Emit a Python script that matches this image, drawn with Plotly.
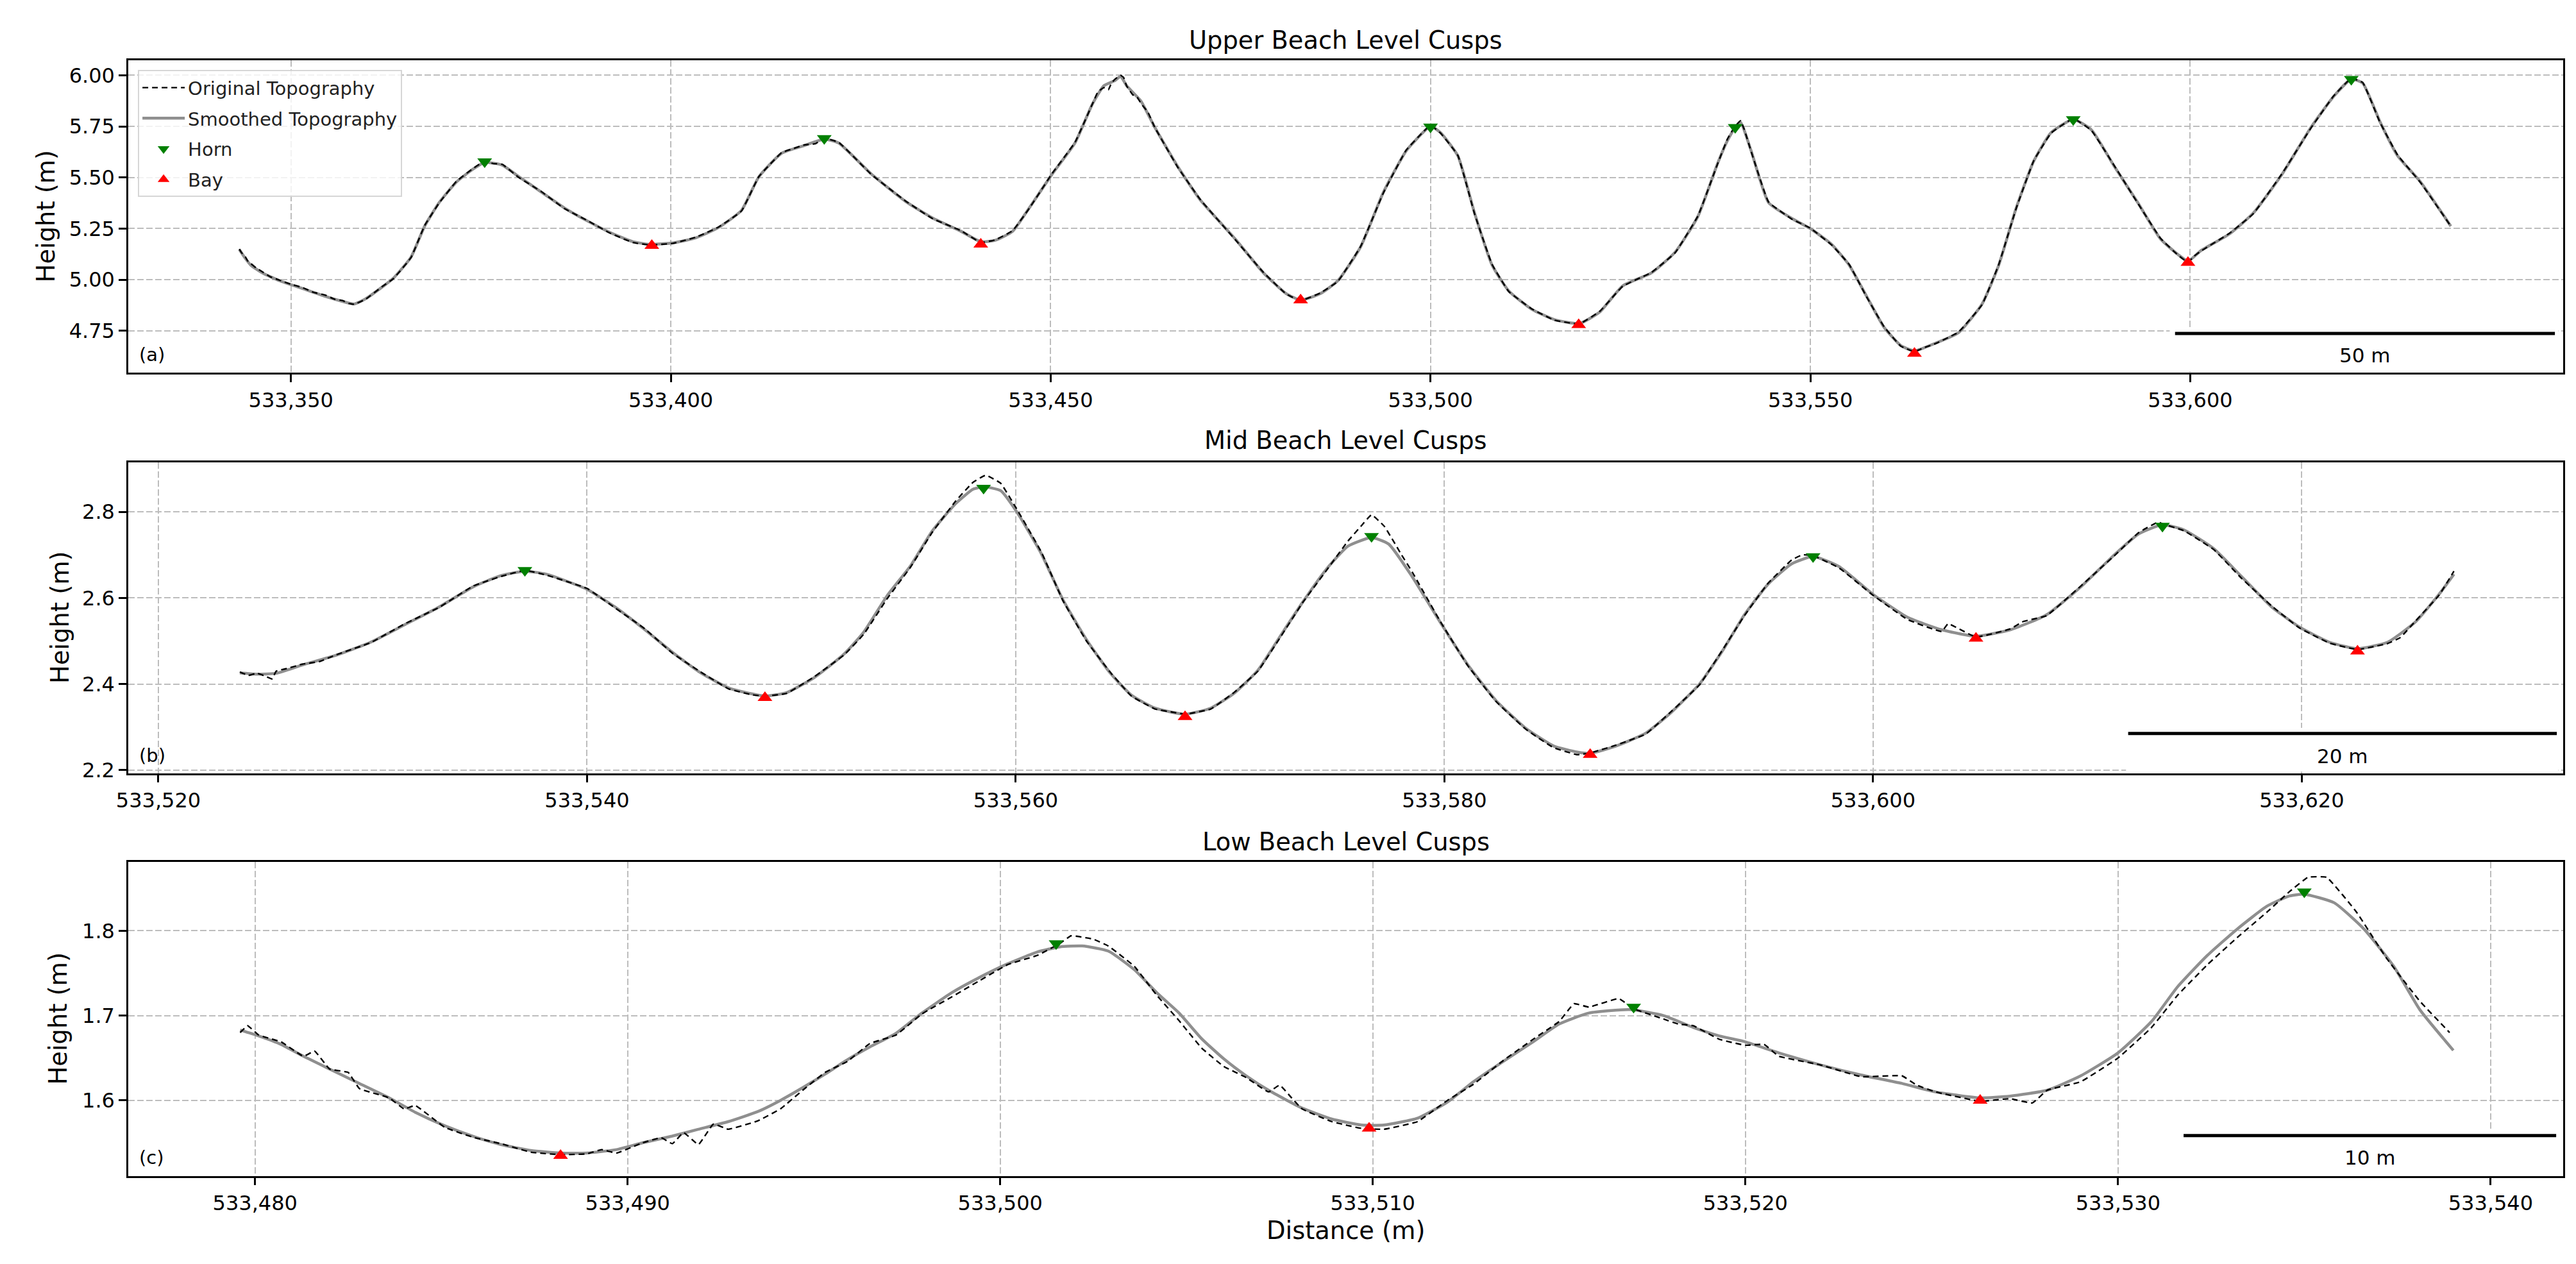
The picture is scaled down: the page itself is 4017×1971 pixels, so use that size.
import plotly.graph_objects as go

FONT = "DejaVu Sans"

# ---------------- data ----------------
SMOOTH_A = [(533343.2, 5.148), (533344.0, 5.104), (533344.7, 5.072), (533346.2, 5.034), (533348.5, 4.995),
            (533351.5, 4.957), (533354.5, 4.919), (533356.8, 4.894), (533358.3, 4.881), (533359.8, 4.906),
            (533362.0, 4.964), (533363.5, 5.008), (533365.8, 5.110), (533367.6, 5.262), (533369.5, 5.377),
            (533371.8, 5.479), (533374.0, 5.542), (533375.5, 5.574), (533377.8, 5.561), (533380.0, 5.504),
            (533383.0, 5.428), (533386.0, 5.351), (533389.0, 5.288), (533392.0, 5.231), (533395.0, 5.186),
            (533397.3, 5.173), (533400.3, 5.180), (533403.3, 5.205), (533406.3, 5.256), (533409.3, 5.339),
            (533411.6, 5.504), (533414.6, 5.619), (533417.6, 5.657), (533420.2, 5.688), (533422.1, 5.669),
            (533426.4, 5.517), (533430.9, 5.383), (533434.5, 5.301), (533438.2, 5.237), (533440.8, 5.186),
            (533442.7, 5.193), (533445.0, 5.237), (533447.2, 5.352), (533450.2, 5.517), (533453.2, 5.669),
            (533455.5, 5.860), (533457.0, 5.949), (533458.5, 5.975), (533459.2, 5.995), (533460.0, 5.949),
            (533461.9, 5.873), (533463.7, 5.746), (533466.7, 5.555), (533469.7, 5.390), (533474.3, 5.199),
            (533478.0, 5.034), (533481.0, 4.932), (533482.9, 4.900), (533485.5, 4.932), (533487.8, 4.995),
            (533490.8, 5.161), (533493.8, 5.428), (533496.8, 5.631), (533499.0, 5.720), (533500.0, 5.752),
            (533501.3, 5.720), (533503.6, 5.606), (533505.8, 5.326), (533508.1, 5.072), (533510.3, 4.945),
            (533513.3, 4.856), (533516.3, 4.805), (533519.6, 4.786), (533522.3, 4.843), (533525.3, 4.970),
            (533529.1, 5.034), (533532.2, 5.135), (533535.2, 5.310), (533537.8, 5.570), (533539.1, 5.682),
            (533540.1, 5.746), (533540.8, 5.770), (533542.2, 5.631), (533544.5, 5.377), (533547.5, 5.301),
            (533550.0, 5.250), (533552.8, 5.173), (533555.1, 5.072), (533557.4, 4.919), (533559.7, 4.767),
            (533561.9, 4.678), (533563.7, 4.652), (533566.5, 4.690), (533569.5, 4.741), (533572.6, 4.881),
            (533574.8, 5.072), (533577.1, 5.352), (533579.4, 5.580), (533581.7, 5.720), (533584.6, 5.784),
            (533587.0, 5.733), (533590.0, 5.555), (533593.1, 5.377), (533596.1, 5.199), (533598.4, 5.123),
            (533599.7, 5.091), (533601.4, 5.142), (533605.2, 5.225), (533608.3, 5.326), (533612.1, 5.517),
            (533615.9, 5.746), (533618.9, 5.898), (533621.2, 5.981), (533622.7, 5.962), (533625.0, 5.771),
            (533627.3, 5.606), (533630.3, 5.479), (533634.3, 5.262)]

ORIG_A = [(533343.2, 5.150), (533343.5, 5.132), (533344.0, 5.112), (533344.3, 5.092), (533344.7, 5.080),
          (533345.4, 5.058), (533346.2, 5.040), (533347.3, 5.014), (533348.5, 4.998), (533350.0, 4.978),
          (533351.5, 4.962), (533353.0, 4.938), (533354.5, 4.925), (533355.7, 4.905), (533356.8, 4.898),
          (533357.6, 4.884), (533358.3, 4.880), (533359.8, 4.904), (533362.0, 4.966), (533363.5, 5.006),
          (533365.8, 5.108), (533367.6, 5.265), (533369.5, 5.375), (533371.8, 5.482), (533374.0, 5.545),
          (533375.5, 5.580), (533376.6, 5.568), (533377.8, 5.565), (533380.0, 5.500), (533383.0, 5.430),
          (533386.0, 5.348), (533389.0, 5.290), (533392.0, 5.228), (533395.0, 5.182), (533397.3, 5.170),
          (533400.3, 5.178), (533403.3, 5.208), (533406.3, 5.258), (533409.3, 5.336), (533411.6, 5.505),
          (533414.6, 5.622), (533416.0, 5.640), (533417.6, 5.660), (533419.0, 5.665), (533420.2, 5.692),
          (533422.1, 5.672), (533426.4, 5.515), (533430.9, 5.385), (533434.5, 5.298), (533438.2, 5.240),
          (533440.8, 5.182), (533442.7, 5.195), (533445.0, 5.240), (533447.2, 5.350), (533450.2, 5.520),
          (533453.2, 5.672), (533455.5, 5.860), (533456.2, 5.918), (533457.0, 5.940), (533457.6, 5.930),
          (533458.0, 5.962), (533458.5, 5.982), (533459.2, 6.000), (533459.6, 5.990), (533460.0, 5.948),
          (533460.8, 5.905), (533461.4, 5.892), (533461.9, 5.862), (533462.8, 5.820), (533463.7, 5.746),
          (533466.7, 5.552), (533469.7, 5.392), (533474.3, 5.196), (533478.0, 5.036), (533481.0, 4.930),
          (533482.9, 4.898), (533485.5, 4.935), (533487.8, 4.992), (533490.8, 5.163), (533493.8, 5.425),
          (533496.8, 5.634), (533499.0, 5.722), (533500.0, 5.755), (533501.3, 5.718), (533503.6, 5.608),
          (533505.8, 5.322), (533508.1, 5.075), (533510.3, 4.942), (533513.3, 4.858), (533516.3, 4.802),
          (533519.6, 4.784), (533522.3, 4.846), (533525.3, 4.968), (533529.1, 5.036), (533532.2, 5.132),
          (533535.2, 5.312), (533537.8, 5.568), (533539.1, 5.690), (533539.6, 5.722), (533540.1, 5.750),
          (533540.8, 5.778), (533541.3, 5.735), (533542.2, 5.628), (533544.5, 5.380), (533547.5, 5.298),
          (533550.0, 5.252), (533552.8, 5.170), (533555.1, 5.075), (533557.4, 4.916), (533559.7, 4.770),
          (533561.9, 4.675), (533563.7, 4.648), (533565.0, 4.668), (533566.5, 4.688), (533569.5, 4.744),
          (533572.6, 4.878), (533574.8, 5.075), (533577.1, 5.350), (533579.4, 5.582), (533581.7, 5.718),
          (533584.6, 5.788), (533587.0, 5.730), (533590.0, 5.558), (533593.1, 5.374), (533596.1, 5.202),
          (533598.4, 5.120), (533599.7, 5.085), (533600.5, 5.115), (533601.4, 5.140), (533605.2, 5.228),
          (533608.3, 5.323), (533612.1, 5.520), (533615.9, 5.743), (533618.9, 5.900), (533621.2, 5.985),
          (533622.7, 5.965), (533625.0, 5.768), (533627.3, 5.610), (533630.3, 5.476), (533634.3, 5.262)]

HORN_A = [(533375.5, 5.578), (533420.2, 5.692), (533500.0, 5.748), (533540.1, 5.746),
          (533584.6, 5.784), (533621.2, 5.981)]
BAY_A = [(533397.5, 5.167), (533440.8, 5.173), (533482.9, 4.900), (533519.5, 4.779),
         (533563.7, 4.639), (533599.7, 5.084)]

SMOOTH_B = [(533523.8, 2.426), (533524.6, 2.423), (533525.5, 2.425), (533526.7, 2.444), (533528.3, 2.467),
            (533529.9, 2.497), (533531.5, 2.538), (533533.1, 2.579), (533534.7, 2.626), (533536.0, 2.652),
            (533537.1, 2.662), (533538.1, 2.655), (533540.0, 2.620), (533541.3, 2.579), (533542.7, 2.526),
            (533544.0, 2.473), (533545.3, 2.426), (533546.6, 2.391), (533547.7, 2.377), (533548.3, 2.372),
            (533549.3, 2.380), (533550.6, 2.415), (533552.0, 2.470), (533552.9, 2.520), (533554.0, 2.605),
            (533555.1, 2.675), (533556.1, 2.755), (533557.2, 2.819), (533558.0, 2.852), (533558.5, 2.858),
            (533559.3, 2.849), (533560.1, 2.796), (533561.2, 2.702), (533562.2, 2.596), (533563.3, 2.503),
            (533564.4, 2.426), (533565.4, 2.374), (533566.5, 2.344), (533567.9, 2.330), (533569.1, 2.344),
            (533570.2, 2.379), (533571.3, 2.432), (533572.3, 2.508), (533573.4, 2.591), (533574.5, 2.667),
            (533575.5, 2.720), (533576.6, 2.740), (533577.4, 2.725), (533578.5, 2.649), (533579.8, 2.544),
            (533581.1, 2.444), (533582.4, 2.362), (533583.8, 2.297), (533585.1, 2.256), (533586.2, 2.242),
            (533586.8, 2.239), (533588.0, 2.256), (533589.4, 2.286), (533590.6, 2.335), (533591.9, 2.400),
            (533593.0, 2.479), (533594.0, 2.561), (533595.1, 2.632), (533596.2, 2.679), (533597.2, 2.696),
            (533598.4, 2.673), (533600.0, 2.608), (533601.6, 2.555), (533603.2, 2.526), (533604.8, 2.511),
            (533606.4, 2.526), (533608.1, 2.561), (533609.7, 2.626), (533611.3, 2.702), (533612.4, 2.749),
            (533613.5, 2.770), (533614.5, 2.758), (533615.9, 2.714), (533617.2, 2.649), (533618.6, 2.579),
            (533619.9, 2.532), (533621.3, 2.497), (533622.6, 2.482), (533624.0, 2.497), (533625.3, 2.544),
            (533626.4, 2.608), (533627.1, 2.655)]

ORIG_B = [(533523.8, 2.428), (533524.2, 2.420), (533524.6, 2.425), (533525.0, 2.418), (533525.3, 2.412),
          (533525.5, 2.430), (533526.0, 2.436), (533526.7, 2.446), (533527.5, 2.452), (533528.3, 2.468),
          (533529.9, 2.496), (533531.5, 2.540), (533533.1, 2.578), (533534.7, 2.628), (533536.0, 2.650),
          (533537.1, 2.664), (533538.1, 2.653), (533540.0, 2.622), (533541.3, 2.577), (533542.7, 2.528),
          (533544.0, 2.471), (533545.3, 2.428), (533546.6, 2.389), (533547.7, 2.375), (533548.3, 2.372),
          (533549.3, 2.378), (533550.6, 2.417), (533552.0, 2.468), (533552.9, 2.515), (533554.0, 2.598),
          (533555.1, 2.672), (533556.1, 2.752), (533557.2, 2.825), (533558.0, 2.868), (533558.6, 2.885),
          (533559.3, 2.866), (533560.1, 2.802), (533561.2, 2.706), (533562.2, 2.594), (533563.3, 2.500),
          (533564.4, 2.428), (533565.4, 2.372), (533566.5, 2.342), (533567.4, 2.334), (533567.9, 2.330),
          (533569.1, 2.342), (533570.2, 2.381), (533571.3, 2.430), (533572.3, 2.505), (533573.4, 2.590),
          (533574.5, 2.664), (533575.5, 2.732), (533576.1, 2.766), (533576.6, 2.793), (533577.2, 2.766),
          (533578.0, 2.700), (533578.5, 2.660), (533579.8, 2.546), (533581.1, 2.442), (533582.4, 2.360),
          (533583.8, 2.295), (533585.1, 2.252), (533586.2, 2.236), (533586.8, 2.240), (533588.0, 2.258),
          (533589.4, 2.284), (533590.6, 2.337), (533591.9, 2.398), (533593.0, 2.481), (533594.0, 2.559),
          (533595.1, 2.634), (533596.2, 2.688), (533596.7, 2.700), (533597.2, 2.698), (533598.4, 2.670),
          (533600.0, 2.606), (533601.6, 2.550), (533603.2, 2.522), (533603.5, 2.540), (533604.8, 2.509),
          (533606.4, 2.528), (533607.0, 2.545), (533608.1, 2.559), (533609.7, 2.628), (533611.3, 2.700),
          (533612.4, 2.752), (533613.3, 2.776), (533613.5, 2.772), (533614.5, 2.756), (533615.9, 2.712),
          (533617.2, 2.645), (533618.6, 2.581), (533619.9, 2.530), (533621.3, 2.495), (533622.6, 2.480),
          (533624.0, 2.494), (533624.6, 2.508), (533625.3, 2.546), (533626.4, 2.606), (533627.1, 2.662)]

HORN_B = [(533537.1, 2.664), (533558.5, 2.855), (533576.6, 2.743), (533597.2, 2.696), (533613.5, 2.767)]
BAY_B = [(533548.3, 2.368), (533567.9, 2.324), (533586.8, 2.236), (533604.8, 2.506), (533622.6, 2.476)]

SMOOTH_C = [(533479.6, 1.683), (533480.1, 1.676), (533480.7, 1.666), (533481.3, 1.652), (533482.0, 1.637),
            (533482.8, 1.620), (533483.6, 1.603), (533484.3, 1.586), (533485.1, 1.570), (533485.9, 1.557),
            (533486.6, 1.548), (533487.4, 1.541), (533488.2, 1.538), (533488.9, 1.538), (533489.7, 1.542),
            (533490.4, 1.550), (533491.2, 1.558), (533491.9, 1.566), (533492.7, 1.575), (533493.5, 1.587),
            (533494.1, 1.600), (533494.7, 1.615), (533495.3, 1.631), (533495.9, 1.648), (533496.5, 1.663),
            (533497.2, 1.679), (533497.9, 1.703), (533498.7, 1.727), (533499.4, 1.744), (533500.2, 1.761),
            (533501.0, 1.775), (533501.6, 1.781), (533502.2, 1.782), (533502.9, 1.776), (533503.6, 1.754),
            (533504.2, 1.727), (533504.8, 1.703), (533505.4, 1.673), (533506.0, 1.649), (533506.6, 1.629),
            (533507.2, 1.612), (533508.1, 1.591), (533508.9, 1.578), (533509.7, 1.571), (533510.3, 1.571),
            (533511.2, 1.579), (533512.0, 1.598), (533512.7, 1.622), (533513.5, 1.646), (533514.3, 1.669),
            (533515.0, 1.690), (533515.8, 1.703), (533516.9, 1.707), (533517.8, 1.700), (533518.6, 1.686),
            (533519.3, 1.676), (533520.0, 1.669), (533520.9, 1.656), (533522.0, 1.642), (533523.1, 1.630),
            (533524.2, 1.620), (533525.1, 1.610), (533526.3, 1.603), (533527.1, 1.605), (533528.1, 1.612),
            (533529.0, 1.629), (533530.0, 1.656), (533530.9, 1.693), (533531.6, 1.734), (533532.4, 1.771),
            (533533.2, 1.802), (533534.0, 1.829), (533534.6, 1.841), (533535.0, 1.843), (533535.8, 1.833),
            (533536.6, 1.802), (533537.4, 1.758), (533538.1, 1.707), (533539.0, 1.659)]

ORIG_C = [(533479.6, 1.680), (533479.8, 1.688), (533480.1, 1.677), (533480.7, 1.669), (533481.3, 1.652),
          (533481.6, 1.658), (533482.0, 1.637), (533482.5, 1.633), (533482.8, 1.614), (533483.6, 1.603),
          (533484.0, 1.590), (533484.3, 1.594), (533485.1, 1.568), (533485.9, 1.556), (533486.6, 1.549),
          (533487.4, 1.539), (533488.2, 1.536), (533488.9, 1.537), (533489.3, 1.542), (533489.7, 1.538),
          (533490.4, 1.550), (533490.9, 1.556), (533491.2, 1.549), (533491.5, 1.562), (533491.9, 1.548),
          (533492.3, 1.572), (533492.7, 1.566), (533493.5, 1.576), (533494.1, 1.590), (533494.7, 1.612),
          (533495.3, 1.633), (533495.9, 1.646), (533496.5, 1.667), (533497.2, 1.677), (533497.9, 1.702),
          (533498.7, 1.722), (533499.4, 1.740), (533500.2, 1.760), (533501.0, 1.771), (533501.6, 1.785),
          (533501.9, 1.794), (533502.5, 1.790), (533502.9, 1.782), (533503.6, 1.758), (533504.2, 1.724),
          (533504.8, 1.694), (533505.4, 1.662), (533506.0, 1.640), (533506.6, 1.627), (533507.2, 1.610),
          (533507.5, 1.618), (533507.8, 1.604), (533508.1, 1.590), (533508.9, 1.575), (533509.7, 1.567),
          (533510.3, 1.566), (533511.2, 1.575), (533512.0, 1.600), (533512.7, 1.619), (533513.5, 1.647),
          (533514.3, 1.672), (533515.0, 1.693), (533515.4, 1.714), (533515.8, 1.710), (533516.6, 1.720),
          (533517.0, 1.708), (533517.8, 1.696), (533518.2, 1.690), (533518.6, 1.688), (533519.3, 1.672),
          (533520.0, 1.665), (533520.5, 1.666), (533520.9, 1.652), (533522.0, 1.642), (533523.1, 1.628),
          (533524.2, 1.629), (533524.6, 1.618), (533525.1, 1.610), (533526.3, 1.599), (533527.1, 1.602),
          (533527.7, 1.597), (533528.1, 1.612), (533529.0, 1.622), (533530.0, 1.650), (533530.9, 1.686),
          (533531.6, 1.724), (533532.4, 1.760), (533533.2, 1.792), (533534.0, 1.822), (533534.6, 1.846),
          (533535.1, 1.863), (533535.6, 1.863), (533536.4, 1.822), (533537.2, 1.768), (533538.1, 1.717),
          (533538.9, 1.680)]

HORN_C = [(533501.5, 1.785), (533517.0, 1.710), (533535.0, 1.846)]
BAY_C = [(533488.2, 1.535), (533509.9, 1.567), (533526.3, 1.600)]

TITLES = ["Upper Beach Level Cusps", "Mid Beach Level Cusps", "Low Beach Level Cusps"]
PANEL_TAGS = ["(a)", "(b)", "(c)"]
X_RANGES = [(533328.6, 533649.1), (533518.6, 533632.2), (533476.6, 533541.95)]
Y_RANGES = [(4.544, 6.074), (2.193, 2.915), (1.511, 1.881)]
X_DTICKS = [50, 20, 10]
Y_DTICKS = [0.25, 0.2, 0.1]
Y_FORMATS = [".2f", ".1f", ".1f"]
# scale bars: start x, length (m), bar y, label y, top and left of the white background box
SCALE_START = [533598.0, 533611.9, 533531.76]
SCALE_LEN = [50, 20, 10]
SCALE_Y = [4.737, 2.285, 1.5585]
SCALE_LABEL_Y = [4.630, 2.233, 1.533]
SCALE_BOX_TOP = [4.767, 2.298, 1.5657]
SCALE_BOX_LEFT = [533597.3, 533611.8, 533531.6]

# ---------------- layout geometry ----------------
W, H = 4017, 1971
X_DOM = [174 / W, 3989 / W]
Y_DOMS = [(1 - 577.6 / H, 1 - 86.5 / H), (1 - 1206.2 / H, 1 - 717.9 / H), (1 - 1838.7 / H, 1 - 1345.7 / H)]
TITLE_Y = [55, 683, 1314]
YLABEL_X = [45, 67, 64]

fig = go.Figure()

panels = [(SMOOTH_A, ORIG_A, HORN_A, BAY_A), (SMOOTH_B, ORIG_B, HORN_B, BAY_B), (SMOOTH_C, ORIG_C, HORN_C, BAY_C)]

for i, (sm, og, hn, by) in enumerate(panels):
    xa = "x" if i == 0 else f"x{i + 1}"
    ya = "y" if i == 0 else f"y{i + 1}"
    first = i == 0
    fig.add_trace(go.Scatter(x=[p[0] for p in sm], y=[p[1] for p in sm], mode="lines",
                             line=dict(color="#8f8f8f", width=4.5, shape="spline", smoothing=0.5),
                             name="Smoothed Topography", legendrank=2, legendgroup="smooth",
                             showlegend=first, xaxis=xa, yaxis=ya))
    fig.add_trace(go.Scatter(x=[p[0] for p in og], y=[p[1] for p in og], mode="lines",
                             line=dict(color="black", width=2.4, dash="9px,6px", shape="spline", smoothing=0.3),
                             name="Original Topography", legendrank=1, legendgroup="orig",
                             showlegend=first, xaxis=xa, yaxis=ya))
    fig.add_trace(go.Scatter(x=[p[0] for p in hn], y=[p[1] for p in hn], mode="markers",
                             marker=dict(symbol="triangle-down", color="#008000", size=20),
                             name="Horn", legendrank=3, legendgroup="horn", showlegend=first,
                             xaxis=xa, yaxis=ya))
    fig.add_trace(go.Scatter(x=[p[0] for p in by], y=[p[1] for p in by], mode="markers",
                             marker=dict(symbol="triangle-up", color="#ff0000", size=20),
                             name="Bay", legendrank=4, legendgroup="bay", showlegend=first,
                             xaxis=xa, yaxis=ya))

axis_common = dict(
    showgrid=True, gridcolor="#bdbdbd", gridwidth=1.8, griddash="10px,4px",
    showline=True, linecolor="black", linewidth=2.6, mirror=True,
    ticks="outside", ticklen=12, tickwidth=2.6, tickcolor="black",
    tickfont=dict(family=FONT, size=32, color="black"), zeroline=False,
)

layout_axes = {}
for i in range(3):
    xk = "xaxis" if i == 0 else f"xaxis{i + 1}"
    yk = "yaxis" if i == 0 else f"yaxis{i + 1}"
    xa = "x" if i == 0 else f"x{i + 1}"
    ya = "y" if i == 0 else f"y{i + 1}"
    layout_axes[xk] = dict(axis_common, domain=X_DOM, anchor=ya, range=list(X_RANGES[i]),
                           dtick=X_DTICKS[i], tick0=0, tickformat=",d")
    layout_axes[yk] = dict(axis_common, domain=list(Y_DOMS[i]), anchor=xa, range=list(Y_RANGES[i]),
                           dtick=Y_DTICKS[i], tick0=0, tickformat=Y_FORMATS[i])

shapes = []
annotations = []
for i in range(3):
    xa = "x" if i == 0 else f"x{i + 1}"
    ya = "y" if i == 0 else f"y{i + 1}"
    # white background of the scale bar (hides grid lines)
    shapes.append(dict(type="rect", xref=xa, yref=f"{ya} domain", x0=SCALE_BOX_LEFT[i],
                       x1=X_RANGES[i][1] - 0.002 * (X_RANGES[i][1] - X_RANGES[i][0]),
                       y0=0.005, y1=(SCALE_BOX_TOP[i] - Y_RANGES[i][0]) / (Y_RANGES[i][1] - Y_RANGES[i][0]),
                       fillcolor="white", line=dict(width=0), layer="above"))
    shapes.append(dict(type="line", xref=xa, yref=ya, x0=SCALE_START[i], x1=SCALE_START[i] + SCALE_LEN[i],
                       y0=SCALE_Y[i], y1=SCALE_Y[i], line=dict(color="black", width=5), layer="above"))
    annotations.append(dict(xref=xa, yref=ya, x=SCALE_START[i] + SCALE_LEN[i] / 2, y=SCALE_LABEL_Y[i],
                            text=f"{SCALE_LEN[i]} m", showarrow=False, xanchor="center", yanchor="middle",
                            font=dict(family=FONT, size=31, color="black")))
    # panel titles
    annotations.append(dict(xref="paper", yref="paper", x=(X_DOM[0] + X_DOM[1]) / 2, y=1 - TITLE_Y[i] / H,
                            text=TITLES[i], showarrow=False, xanchor="center", yanchor="middle",
                            font=dict(family=FONT, size=38.4, color="black")))
    # y-axis titles
    annotations.append(dict(xref="paper", yref="paper", x=YLABEL_X[i] / W,
                            y=(Y_DOMS[i][0] + Y_DOMS[i][1]) / 2, text="Height (m)", textangle=-90,
                            showarrow=False, xanchor="center", yanchor="middle",
                            font=dict(family=FONT, size=38.4, color="black")))
    # panel tags
    annotations.append(dict(xref=f"{xa} domain", yref=f"{ya} domain", x=0.004, y=0.058,
                            text=PANEL_TAGS[i], showarrow=False, xanchor="left", yanchor="middle",
                            font=dict(family=FONT, size=29, color="black")))

annotations.append(dict(xref="paper", yref="paper", x=(X_DOM[0] + X_DOM[1]) / 2, y=1 - 1924 / H,
                        text="Distance (m)", showarrow=False, xanchor="center", yanchor="middle",
                        font=dict(family=FONT, size=38.4, color="black")))

fig.update_layout(
    width=W, height=H,
    margin=dict(l=0, r=0, t=0, b=0),
    paper_bgcolor="white", plot_bgcolor="white",
    font=dict(family=FONT, size=29, color="black"),
    showlegend=True,
    legend=dict(x=189 / W, y=1 - 102 / H, xanchor="left", yanchor="top",
                bgcolor="rgba(255,255,255,0.8)", bordercolor="#d6d6d6", borderwidth=2,
                font=dict(family=FONT, size=29, color="#222222"), itemwidth=66, tracegroupgap=7),
    shapes=shapes, annotations=annotations,
    **layout_axes,
)

fig.write_html("out.html")
